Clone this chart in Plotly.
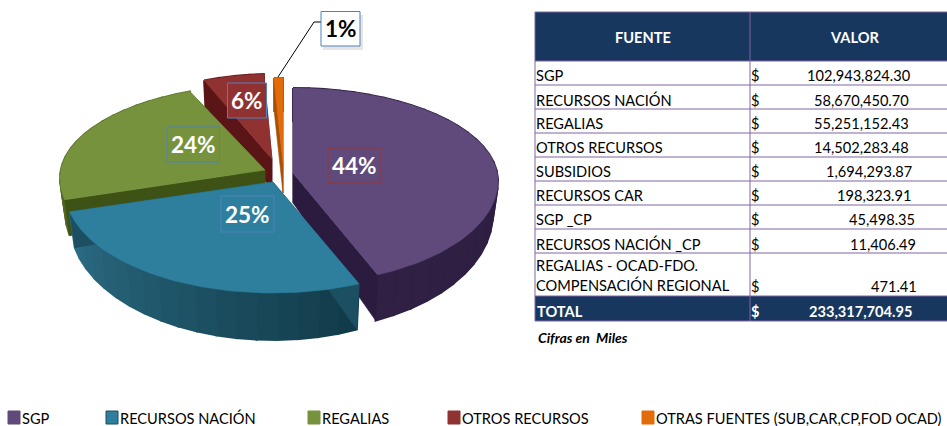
import math
import plotly.graph_objects as go

# ---------- DATA ----------
table_labels = ["SGP", "RECURSOS NACIÓN", "REGALIAS", "OTROS RECURSOS", "SUBSIDIOS", "RECURSOS CAR",
                "SGP _CP", "RECURSOS NACIÓN _CP", "REGALIAS - OCAD-FDO.<br>COMPENSACIÓN REGIONAL"]
table_values = [102943824.30, 58670450.70, 55251152.43, 14502283.48, 1694293.87, 198323.91,
                45498.35, 11406.49, 471.41]
total_value = 233317704.95
pie_labels = ["SGP", "RECURSOS NACIÓN", "REGALIAS", "OTROS RECURSOS", "OTRAS FUENTES (SUB,CAR,CP,FOD OCAD)"]
pie_values = table_values[:4] + [sum(table_values[4:])]
note = "Cifras en  Miles"

# ---------- STYLE ----------
FONT = "Lato"
top_col = ["#5f4a7b", "#2d7f9d", "#76923c", "#8f3231", "#e36c0a"]
face_col = ["#2b1c3f", "#1c4f62", "#3f5215", "#5b1517", "#a85008"]
wall_a = ["#2f2044", "#2b6c84", "#5b7329", "#5b1517", "#b85a0a"]
wall_b = ["#2a1b3e", "#123b4a", "#4f6422", "#5b1517", "#b85a0a"]
apex = [(293, 173), (273, 182), (265, 170), (272, 159), (283, 163)]
radius_x = [205, 208, 205, 185, 205]
RYB, RYF, OFF, DEPTH = 93, 103, 8, 33
order = [4, 3, 2, 0, 1]


def warp(deg):
    return deg - 9 * math.sin(math.radians(deg))


def rim(a, rx, deg, bottom=False):
    t = math.radians(warp(deg))
    s, c = math.sin(t), math.cos(t)
    if bottom:
        ry = RYB if c >= 0 else RYF + 14
        return a[0] + 0.975 * rx * s, a[1] + OFF + DEPTH - ry * c
    ry = RYB if c >= 0 else RYF
    return a[0] + rx * s, a[1] + OFF - ry * c


def mix(c1, c2, f):
    p = [int(c1[i:i + 2], 16) for i in (1, 3, 5)]
    q = [int(c2[i:i + 2], 16) for i in (1, 3, 5)]
    return "#%02x%02x%02x" % tuple(round(u + (v - u) * f) for u, v in zip(p, q))


def poly(pts, color, name, lw=0.6):
    xs = [p[0] for p in pts]
    ys = [p[1] for p in pts]
    return go.Scatter(x=xs + xs[:1], y=ys + ys[:1], mode="lines", fill="toself", fillcolor=color,
                      line=dict(color=color, width=lw), hoverinfo="text", text=name, showlegend=False)


fig = go.Figure()
total_pie = sum(pie_values)
starts = []
acc = 0
for v in pie_values:
    starts.append(acc)
    acc += v / total_pie * 360

for i in order:
    a = apex[i]
    rx = radius_x[i]
    d0 = starts[i]
    d1 = d0 + pie_values[i] / total_pie * 360
    name = pie_labels[i]
    ab = (a[0], a[1] + 30)
    # outer wall, shaded in steps
    n = max(1, int((d1 - d0) / 5))
    for k in range(n):
        u0 = d0 + (d1 - d0) * k / n
        u1 = d0 + (d1 - d0) * (k + 1) / n
        col = mix(wall_b[i], wall_a[i], k / max(1, n - 1)) if n > 1 else wall_a[i]
        fig.add_trace(poly([rim(a, rx, u0), rim(a, rx, u1), rim(a, rx, u1, True), rim(a, rx, u0, True)], col, name, 2))
    # radial cut faces
    for d in (d0, d1):
        fig.add_trace(poly([a, rim(a, rx, d), rim(a, rx, d, True), ab], face_col[i], name))
    # top surface
    m = max(4, int((d1 - d0) / 1.5))
    arc = [rim(a, rx, d0 + (d1 - d0) * k / m) for k in range(m + 1)]
    fig.add_trace(poly([a] + arc, top_col[i], name))

shapes = []
ann = []


def text(x, y, s, size=14.6, color="#000000", anchor="left", bold=False, italic=False):
    if bold:
        s = f"<b>{s}</b>"
    if italic:
        s = f"<i>{s}</i>"
    ann.append(dict(x=x, y=y, xref="x", yref="y", text=s, showarrow=False, xanchor=anchor, yanchor="middle",
                    align="left", font=dict(family=FONT, size=size, color=color)))


# leader line for the smallest slice
shapes.append(dict(type="path", path="M 278 77 L 314 22 L 321 22", line=dict(color="#000000", width=1)))
shapes.append(dict(type="rect", x0=323, y0=15, x1=363, y1=50, fillcolor="rgba(0,0,0,0.10)", line=dict(width=0)))

# percentage labels
boxes = [(328, 381, 148, 183, "#953735", "#5f4a7b", "#ffffff"), (221, 274, 196, 232, "#4f81bd", "#2d7f9d", "#ffffff"),
         (167, 219.5, 127, 162, "#4f81bd", "#76923c", "#ffffff"), (227.5, 266.5, 83, 118, "#4f81bd", "#8f3231", "#ffffff"),
         (321, 360, 11.5, 46, "#4f81bd", "#ffffff", "#000000")]
for i, (x0, x1, y0, y1, bc, bg, fc) in enumerate(boxes):
    pct = round(pie_values[i] / total_pie * 100)
    shapes.append(dict(type="rect", x0=x0, x1=x1, y0=y0, y1=y1, fillcolor=bg, line=dict(color=bc, width=1)))
    text((x0 + x1) / 2, (y0 + y1) / 2, f"{pct}%", 22.5, fc, "center", bold=True)

# table
NAVY = "#17375e"
LINE = "#8064a2"
L, M, R = 535, 750, 947
shapes.append(dict(type="rect", x0=L, x1=R, y0=12, y1=61, fillcolor=NAVY, line=dict(width=0), layer="below"))
shapes.append(dict(type="rect", x0=L, x1=R, y0=296, y1=321, fillcolor=NAVY, line=dict(width=0), layer="below"))
rows = [12, 61, 85, 109, 133, 157, 181, 205, 229, 253, 296, 321]
for y in rows:
    shapes.append(dict(type="line", x0=L, x1=R, y0=y, y1=y, line=dict(color=LINE, width=1)))
for x in (L, M):
    shapes.append(dict(type="line", x0=x, x1=x, y0=12, y1=321, line=dict(color=LINE, width=1)))

text(643, 37, "FUENTE", 14.6, "#ffffff", "center", bold=True)
text(854, 37, "VALOR", 14.6, "#ffffff", "center", bold=True)
text_right = [913, 911, 911, 911, 914, 913, 917, 918, 919]
row_y = [75, 100, 123, 147, 171, 195, 219, 244, 286]
for lab, val, yy, xr in zip(table_labels, table_values, row_y, text_right):
    if "<br>" in lab:
        a, b = lab.split("<br>")
        text(533.5, 265, a)
        text(533.5, 285, b)
    else:
        text(533.5, yy, lab)
    text(749, yy, "$")
    text(xr, yy, f"{val:,.2f}", anchor="right")
text(534.5, 311, "TOTAL", 14.6, "#ffffff", bold=True)
text(749, 311, "$", 14.6, "#ffffff", bold=True)
text(914, 311, f"{total_value:,.2f}", 14.6, "#ffffff", "right", bold=True)
text(536, 337, note, 14, "#000000", bold=True, italic=True)

# legend
sw_x = [8, 106, 308, 448, 642]
for i, (x, lab) in enumerate(zip(sw_x, pie_labels)):
    shapes.append(dict(type="rect", x0=x, x1=x + 12, y0=411, y1=424, fillcolor=top_col[i],
                       line=dict(color=face_col[i] if i == 1 else top_col[i], width=1)))
    text(x + 11.5, 418, lab)

fig.update_layout(width=947, height=426, margin=dict(l=0, r=0, t=0, b=0), autosize=False,
                  paper_bgcolor="#ffffff", plot_bgcolor="#ffffff", showlegend=False,
                  xaxis=dict(range=[0, 947], visible=False, fixedrange=True),
                  yaxis=dict(range=[426, 0], visible=False, fixedrange=True),
                  shapes=shapes, annotations=ann, font=dict(family=FONT))
fig.write_html("out.html", config=dict(displayModeBar=False),
               post_script="document.body.style.margin='0';document.body.style.overflow='hidden';")
